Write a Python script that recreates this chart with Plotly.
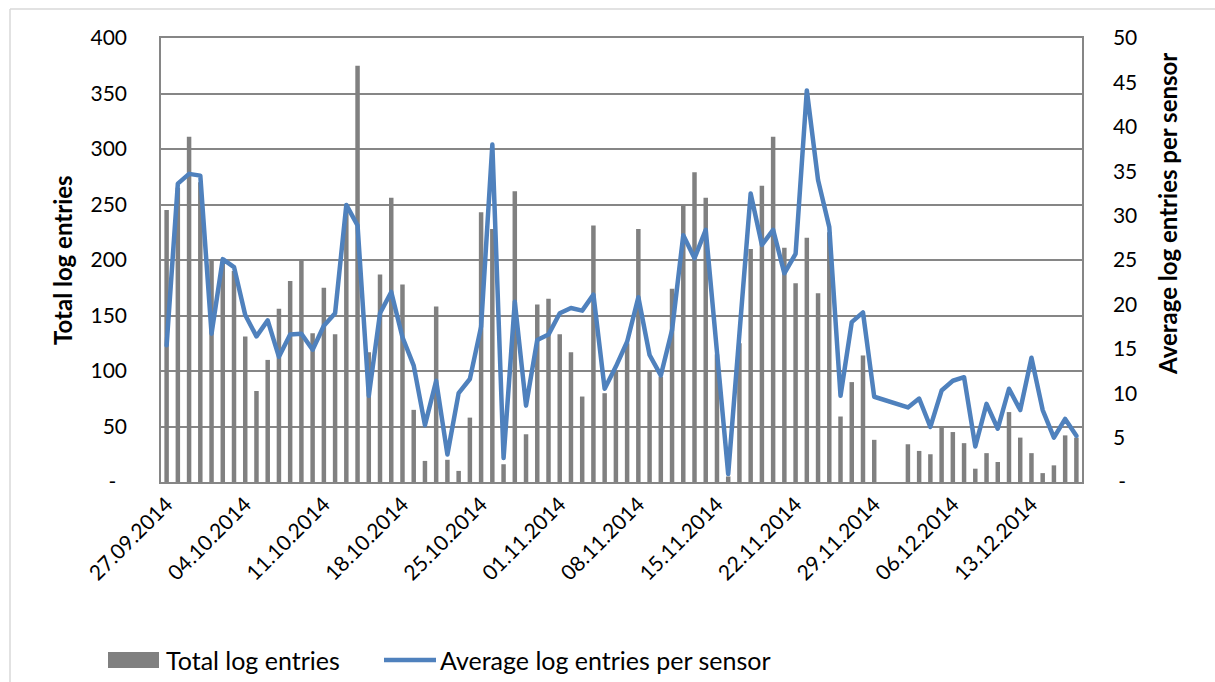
import pandas as pd
import plotly.graph_objects as go

# Daily categories, 27.09.2014 - 17.12.2014
dates = [d.strftime("%d.%m.%Y") for d in pd.date_range("2014-09-27", "2014-12-17", freq="D")]

# Total log entries per day (None = no data)
total_entries = [
    245, 265, 311, 270, 200, 198, 190, 131, 82, 110,
    156, 181, 200, 134, 175, 133, 245, 375, 117, 187,
    256, 178, 65, 19, 158, 20, 10, 58, 243, 228,
    16, 262, 43, 160, 165, 133, 117, 77, 231, 80,
    100, 125, 228, 100, 95, 174, 249, 279, 256, 115,
    5, 125, 210, 267, 311, 211, 179, 220, 170, 225,
    59, 90, 114, 38, None, None, 34, 28, 25, 50,
    45, 35, 12, 26, 18, 63, 40, 26, 8, 15,
    42, 40,
]

# Average log entries per sensor per day
avg_per_sensor = [
    15.4, 33.6, 34.7, 34.5, 16.7, 25.1, 24.2, 18.8, 16.4, 18.2,
    14.1, 16.6, 16.7, 14.9, 17.6, 19.0, 31.2, 28.9, 9.7, 19.0,
    21.4, 16.3, 13.1, 6.4, 11.4, 3.1, 10.0, 11.6, 17.5, 38.0,
    2.7, 20.3, 8.6, 16.0, 16.6, 19.0, 19.6, 19.3, 21.1, 10.5,
    13.0, 15.8, 20.8, 14.3, 12.0, 17.1, 27.8, 25.2, 28.4, 15.3,
    0.9, 16.7, 32.5, 26.7, 28.4, 23.5, 25.7, 44.1, 34.0, 28.7,
    9.7, 18.0, 19.1, 9.6, None, None, 8.4, 9.4, 6.2, 10.3,
    11.4, 11.8, 4.0, 8.8, 6.0, 10.5, 8.1, 14.0, 8.1, 5.0,
    7.1, 5.2,
]

left_ticks = [0, 50, 100, 150, 200, 250, 300, 350, 400]
left_ticktext = ["-\u00a0\u00a0", "50", "100", "150", "200", "250", "300", "350", "400"]
right_ticks = [0, 5, 10, 15, 20, 25, 30, 35, 40, 45, 50]
right_ticktext = ["\u00a0-", "5", "10", "15", "20", "25", "30", "35", "40", "45", "50"]

BAR_NAME = "Total log entries"
LINE_NAME = "Average log entries per sensor"
BAR_COLOR = "#808080"
LINE_COLOR = "#4f81bd"
FONT = "Lato"
GRID = "#868686"

fig = go.Figure()
fig.add_trace(go.Bar(
    x=dates, y=total_entries, name=BAR_NAME,
    marker=dict(color=BAR_COLOR, line=dict(width=0)),
))
fig.add_trace(go.Scatter(
    x=dates, y=avg_per_sensor, name=LINE_NAME,
    mode="lines", yaxis="y2", connectgaps=True,
    line=dict(color=LINE_COLOR, width=4.5),
))

W, H = 1215, 682
L, R, T, B = 161, 1082, 38, 482
pw, ph = R - L, B - T


def px(x):
    return (x - L) / pw


def py(y):
    return (B - y) / ph


LEG_Y = 660

fig.update_layout(
    width=W, height=H,
    margin=dict(l=L, r=W - R, t=T, b=H - B, pad=0),
    paper_bgcolor="white", plot_bgcolor="white",
    font=dict(family=FONT, size=21, color="black"),
    bargap=0.6,
    showlegend=False,
    xaxis=dict(
        type="category", tickmode="array", tickvals=dates[::7], ticktext=dates[::7],
        tickangle=-45, showgrid=False, showline=True, linecolor=GRID, linewidth=1.5,
        mirror=True, ticks="", tickfont=dict(size=21), range=[-0.5, len(dates) - 0.5],
    ),
    yaxis=dict(
        range=[0, 400], tickmode="array", tickvals=left_ticks, ticktext=left_ticktext,
        showgrid=True, gridcolor=GRID, gridwidth=1.5, showline=True, linecolor=GRID,
        linewidth=1.5, ticks="", zeroline=False, ticklabelstandoff=28,
    ),
    yaxis2=dict(
        range=[0, 50], overlaying="y", side="right", tickmode="array",
        tickvals=right_ticks, ticktext=right_ticktext, showgrid=False,
        showline=True, linecolor=GRID, linewidth=1.5, ticks="", zeroline=False,
        ticklabelstandoff=25,
    ),
    annotations=[
        dict(text="<b>Total log entries</b>", textangle=-90, xref="paper", yref="paper",
             x=px(62), y=0.5, xanchor="center", yanchor="middle", showarrow=False,
             font=dict(size=24)),
        dict(text="<b>Average log entries per sensor</b>", textangle=-90, xref="paper",
             yref="paper", x=px(1168), y=py(214), xanchor="center", yanchor="middle",
             showarrow=False, font=dict(size=24)),
        # legend labels
        dict(text=BAR_NAME, xref="paper", yref="paper", x=px(164), y=py(LEG_Y),
             xanchor="left", yanchor="middle", showarrow=False, font=dict(size=25)),
        dict(text=LINE_NAME, xref="paper", yref="paper", x=px(438), y=py(LEG_Y),
             xanchor="left", yanchor="middle", showarrow=False, font=dict(size=25)),
    ],
    shapes=[
        # chart frame
        dict(type="line", xref="paper", yref="paper", x0=px(10), x1=px(1215),
             y0=py(9), y1=py(9), line=dict(color="#d9d9d9", width=1.5)),
        dict(type="line", xref="paper", yref="paper", x0=px(10), x1=px(10),
             y0=py(9), y1=py(682), line=dict(color="#d9d9d9", width=1.5)),
        # legend keys
        dict(type="rect", xref="paper", yref="paper", x0=px(108), x1=px(159),
             y0=py(LEG_Y - 8), y1=py(LEG_Y + 8), fillcolor=BAR_COLOR, line=dict(width=0)),
        dict(type="line", xref="paper", yref="paper", x0=px(384), x1=px(436),
             y0=py(LEG_Y), y1=py(LEG_Y), line=dict(color=LINE_COLOR, width=4.5)),
    ],
)

fig.write_html(
    "out.html",
    post_script="document.querySelectorAll('.js-line').forEach(function(p){"
                "p.style.strokeLinejoin='round';p.style.strokeLinecap='round';});",
)
